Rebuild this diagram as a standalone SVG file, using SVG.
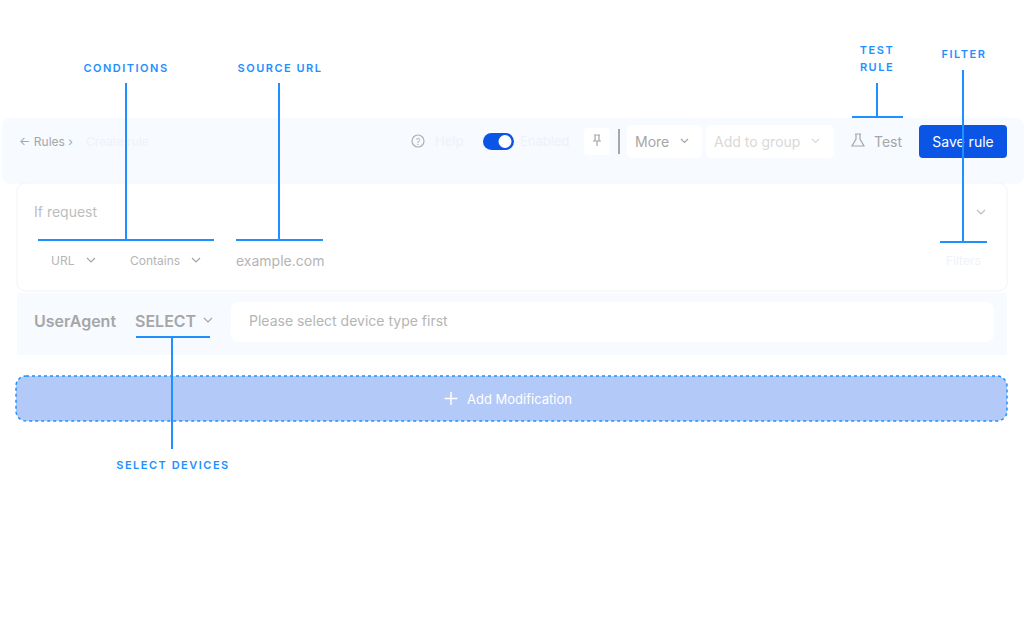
<svg xmlns="http://www.w3.org/2000/svg" width="1024" height="622" viewBox="0 0 1024 622">
<style>
.t{font-family:Inter,"Liberation Sans",sans-serif}
.lbl{font-family:Inter,"Liberation Sans",sans-serif;font-size:11px;font-weight:600;fill:#1e90ff;letter-spacing:1.5px;text-anchor:middle}
.ln{stroke:#1e90ff;stroke-width:2;fill:none}
.g{fill:#a6a6a6}
.chev{stroke:#a6a6a6;stroke-width:1.2;fill:none}
</style>
<rect width="1024" height="622" fill="#fff"/>
<g id="header">
<rect x="2" y="118" width="1022" height="66" rx="8" fill="#f7faff"/>
<text x="19" y="146" class="t g" font-size="12">← Rules  ›</text>
<text x="86" y="146" class="t" font-size="12" fill="#eef2f8">Create rule</text>
<circle cx="418" cy="141" r="6" fill="none" stroke="#b0b0b0" stroke-width="1.2"/>
<text x="418" y="145" class="t" font-size="9" fill="#b0b0b0" text-anchor="middle">?</text>
<text x="435" y="146" class="t" font-size="13" fill="#eef2f8">Help</text>
<rect x="483" y="133" width="31" height="17" rx="8.5" fill="#0a55e6"/>
<circle cx="505" cy="141.5" r="6.5" fill="#fff"/>
<text x="520" y="146" class="t" font-size="13" fill="#eef2f8">Enabled</text>
<rect x="584" y="128" width="26" height="27" rx="4" fill="#fff"/>
<path d="M594 135h6M595 135v6h4v-6M593 141h8M597 141v5" class="chev"/>
<line x1="619" y1="129" x2="619" y2="154" stroke="#555" stroke-width="1"/>
<rect x="627" y="125" width="75" height="33" rx="5" fill="#fff"/>
<text x="635" y="147" class="t g" font-size="14">More</text>
<path d="M681 139l3.5 3.5 3.5-3.5" class="chev"/>
<rect x="706" y="125" width="128" height="33" rx="5" fill="#fff"/>
<text x="714" y="147" class="t" font-size="14" fill="#d8d8d8">Add to group</text>
<path d="M812 139l3.5 3.5 3.5-3.5" stroke="#d8d8d8" stroke-width="1.2" fill="none"/>
<path d="M855 134h6M856 134v5l-4 7h12l-4-7v-5" class="chev"/>
<text x="874" y="147" class="t g" font-size="14">Test</text>
<rect x="919" y="125" width="88" height="33" rx="4" fill="#0a55e6"/>
<text x="963" y="147" class="t" font-size="14" fill="#fff" text-anchor="middle">Save rule</text>
</g>
<g id="conditions">
<rect x="17" y="183" width="990" height="108" rx="8" fill="#fff" stroke="#f2f4f8"/>
<text x="34" y="217" class="t" font-size="14" fill="#bdbdbd">If request</text>
<path d="M977 210l4 4 4-4" stroke="#bdbdbd" stroke-width="1.2" fill="none"/>
<text x="51" y="265" class="t" font-size="12" fill="#b5b5b5">URL</text>
<path d="M87 258l4 4 4-4" class="chev"/>
<text x="130" y="265" class="t" font-size="12" fill="#b5b5b5">Contains</text>
<path d="M192 258l4 4 4-4" class="chev"/>
<text x="236" y="266" class="t" font-size="14" fill="#b5b5b5">example.com</text>
<text x="946" y="265" class="t" font-size="12" fill="#eef2f8">Filters</text>
</g>
<g id="modification">
<rect x="17" y="293" width="990" height="62" fill="#f7faff"/>
<text x="34" y="327" class="t" font-size="16" font-weight="600" fill="#a6a6a6">UserAgent</text>
<text x="135" y="327" class="t" font-size="16" font-weight="600" fill="#a6a6a6">SELECT</text>
<path d="M204 318l4 4 4-4" class="chev"/>
<rect x="231" y="302" width="763" height="40" rx="8" fill="#fff"/>
<text x="249" y="326" class="t" font-size="14" fill="#b5b5b5">Please select device type first</text>
</g>
<g id="add-modification">
<rect x="16" y="376" width="991" height="45" rx="10" fill="#b3c9f7" stroke="#1e90ff" stroke-width="1.5" stroke-dasharray="3 3"/>
<path d="M451 392v13M444.5 398.5h13" stroke="#fff" stroke-width="1.5"/>
<text x="467" y="404" class="t" font-size="13" fill="#fff">Add Modification</text>
</g>
<g id="connectors">
<path class="ln" d="M126 83v157M38 240h176"/>
<path class="ln" d="M279 83v157M236 240h87"/>
<path class="ln" d="M877 83v34M852 117h51"/>
<path class="ln" d="M963 70v172M940 242h47"/>
<path class="ln" d="M172 337v112M136 337h74"/>
</g>
<g id="labels">
<text x="126" y="72" class="lbl">CONDITIONS</text>
<text x="280" y="72" class="lbl">SOURCE URL</text>
<text x="877" y="54" class="lbl">TEST</text>
<text x="877" y="71" class="lbl">RULE</text>
<text x="964" y="58" class="lbl">FILTER</text>
<text x="173" y="469" class="lbl">SELECT DEVICES</text>
</g>
</svg>
